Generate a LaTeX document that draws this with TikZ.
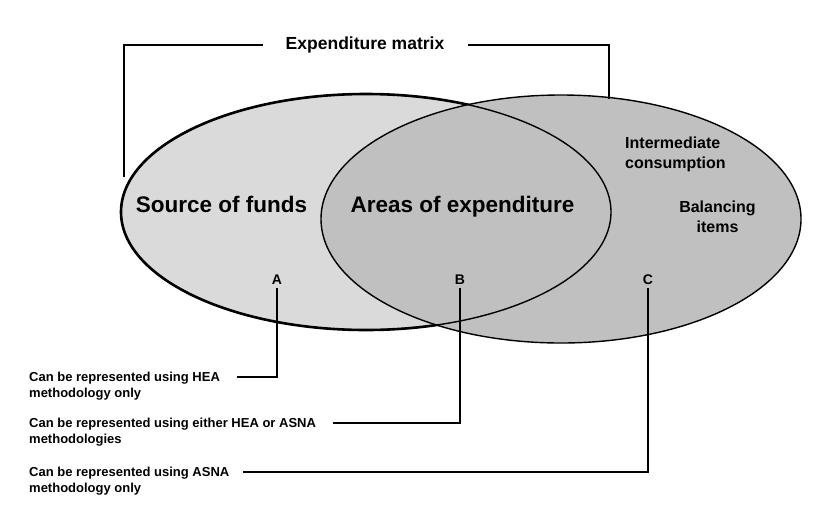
\documentclass[tikz,border=0pt]{standalone}
\usepackage{fontspec}
\setmainfont{Liberation Sans}
\begin{document}
\begin{tikzpicture}[x=1pt,y=-1pt,
  lbl/.style={font=\bfseries\fontsize{13}{16}\selectfont, align=left, anchor=north west, inner sep=0pt},
  letter/.style={font=\bfseries\fontsize{14}{16}\selectfont, inner sep=1pt},
  conn/.style={line width=1.8pt},
  big/.style={font=\bfseries\fontsize{22.5}{26}\selectfont, inner sep=0pt},
  mid/.style={font=\bfseries\fontsize{16}{19.5}\selectfont, inner sep=0pt}]
\useasboundingbox (0,0) rectangle (832,531);
\definecolor{lightg}{HTML}{DADADA}
\definecolor{darkg}{HTML}{C0C0C0}
% ellipses
\fill[lightg] (366,212) ellipse [x radius=245, y radius=118];
\draw[line width=2.6pt] (366,212) ellipse [x radius=245, y radius=118];
\fill[darkg] (561,219) ellipse [x radius=240, y radius=124];
\draw[line width=1.4pt] (561,219) ellipse [x radius=240, y radius=124];
\draw[line width=1.4pt] (366,212) ellipse [x radius=245, y radius=118];
% title and bracket
\node[font=\bfseries\fontsize{17.5}{20}\selectfont, inner sep=0pt] (title) at (365,45) {Expenditure matrix};
\coordinate (bl) at (263,45);
\coordinate (br) at (468,45);
\draw[conn] (bl) -- (124,45) -- (124,177);
\draw[conn] (br) -- (609,45) -- (609,99);
% texts
\node[big, anchor=base] (src) at (221.5,212) {Source of funds};
\node[big, anchor=base] (areas) at (462.5,212) {Areas of expenditure};
\node[mid, anchor=base west, align=left] (inter) at (625,168) {Intermediate\\consumption};
\node[mid, anchor=base, align=center] (bal) at (717.5,232) {Balancing\\items};
\node[letter] (A) at (277,280) {A};
\node[letter] (B) at (460,280) {B};
\node[letter] (C) at (648,280) {C};
% labels
\node[lbl] (la) at (29,372) {Can be represented using HEA\\methodology only};
\node[lbl] (lb) at (29,418) {Can be represented using either HEA or ASNA\\methodologies};
\node[lbl] (lc) at (29,467) {Can be represented using ASNA\\methodology only};
\coordinate (ea) at (237,377);
\coordinate (eb) at (333,423);
\coordinate (ec) at (243,472);
\draw[conn] ([yshift=-2pt]A.south) |- (ea);
\draw[conn] ([yshift=-2pt]B.south) |- (eb);
\draw[conn] ([yshift=-2pt]C.south) |- (ec);
\end{tikzpicture}
\end{document}
